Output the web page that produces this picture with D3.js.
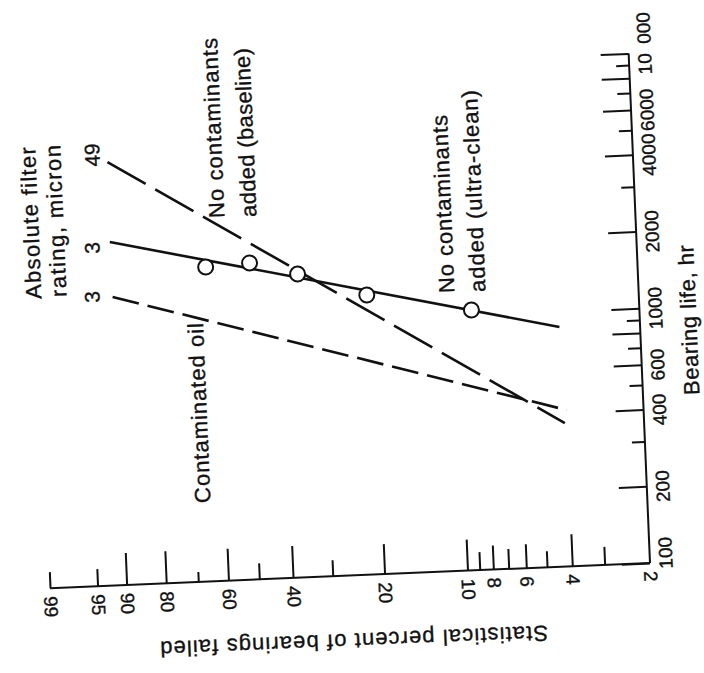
<!DOCTYPE html>
<html><head><meta charset="utf-8">
<script src="https://cdn.jsdelivr.net/npm/d3@7"></script>
<style>html,body{margin:0;padding:0;background:#fff;} svg{display:block;} text{stroke:#111;stroke-width:0.35px;}</style>
</head><body>
<svg id="chart" width="704" height="673"></svg>
<script>
// ---------------- data ----------------
const lifeTicks = [100,200,300,400,500,600,700,800,900,1000,2000,3000,4000,5000,6000,7000,8000,9000,10000];
const lifeLabels = [100,200,400,600,1000,2000,4000,6000,10000];
const lifeMinor = [300,500,700,900,3000,5000,7000,9000];
const pctTicks = [99,95,90,80,70,60,50,40,30,20,10,9,8,7,6,5,4,3,2];
const pctLabels = [99,95,90,80,60,40,20,10,8,6,4,2];
const pctTickLen = [16,17,32,32,10,32,16,32,16,30,31,18,24,20,24,16,32,18,0];

// Weibull lines (bearing life hr, percent failed)
const ultraCleanLine   = [{life:2220,pct:90.5},{life:870,pct:4.1}];
const ultraCleanPoints = [{life:1708,pct:63.2},{life:1743,pct:48.9},{life:1549,pct:35.4},{life:1249,pct:21.0},{life:1048,pct:8.8}];
const baselineLine     = [{life:4571,pct:90.3},{life:365,pct:4.05}];
const contaminatedLine = [{life:1351,pct:90.4},{life:410,pct:3.96}];
const filterRatings    = ["49","3","3"];

// ---------------- layout ----------------
const FONT = "'Liberation Sans', Arial, Helvetica, sans-serif";
const CX = 650, CY = 563, TILT = -2.4;
const svg = d3.select('#chart');
svg.append('rect').attr('width',704).attr('height',673).attr('fill','#fff');

const weib = p => Math.log(-Math.log(1 - p/100));
const pctLin = d3.scaleLinear().domain([weib(2), weib(99)]).range([CX, 49.5]);
const xP = p => pctLin(weib(p));
const yL = d3.scaleLog().domain([100,10000]).range([CY, 53]);

const g = svg.append('g').attr('transform',`rotate(${TILT},${CX},${CY})`);

// life axis (vertical, right)
const lifeAxis = d3.axisRight(yL).tickValues(lifeTicks).tickSize(0)
  .tickFormat(d => lifeLabels.includes(d) ? (d===10000 ? "10\u2002000" : String(d)) : "");
const ga = g.append('g').attr('transform',`translate(${CX},0)`).call(lifeAxis);
ga.select('.domain').remove();
ga.selectAll('.tick line').attr('x2', d => lifeMinor.includes(d) ? -13 : -28)
  .attr('stroke','#111').attr('stroke-width',2);
ga.selectAll('.tick text')
  .attr('x',null).attr('dy',null)
  .attr('transform', d => `translate(22.5,${d===100?-10:(d===10000?-10:0)}) rotate(-90)`)
  .attr('text-anchor','middle')
  .attr('font-family',FONT).attr('font-size',19).attr('fill','#111');
g.append('line').attr('x1',CX).attr('x2',CX).attr('y1',CY).attr('y2',yL(10000))
  .attr('stroke','#111').attr('stroke-width',2);

// percent axis (horizontal, bottom)
const pctAxis = d3.axisBottom(pctLin).tickValues(pctTicks.map(weib)).tickSize(0)
  .tickFormat((v,i) => pctLabels.includes(pctTicks[i]) ? String(pctTicks[i]) : "");
const gb = g.append('g').attr('transform',`translate(0,${CY})`).call(pctAxis);
gb.select('.domain').remove();
gb.selectAll('.tick line').attr('y2',(v,i) => -pctTickLen[i])
  .attr('stroke','#111').attr('stroke-width',2);
gb.selectAll('.tick text')
  .attr('y',null).attr('dy',null)
  .attr('transform','translate(-6.8,8) rotate(90)')
  .attr('text-anchor','start')
  .attr('font-family',FONT).attr('font-size',19).attr('fill','#111');
g.append('line').attr('x1',xP(99)).attr('x2',CX).attr('y1',CY).attr('y2',CY)
  .attr('stroke','#111').attr('stroke-width',2);

// lines
const line = d3.line().x(d => xP(d.pct)).y(d => yL(d.life));
g.append('path').datum(baselineLine).attr('d',line).attr('fill','none')
  .attr('stroke','#111').attr('stroke-width',2.6).attr('stroke-dasharray','44,11');
g.append('path').datum(contaminatedLine).attr('d',line).attr('fill','none')
  .attr('stroke','#111').attr('stroke-width',2.6).attr('stroke-dasharray','27,9');
g.append('path').datum(ultraCleanLine).attr('d',line).attr('fill','none')
  .attr('stroke','#111').attr('stroke-width',2.6);
g.selectAll('circle.pt').data(ultraCleanPoints).join('circle').attr('class','pt')
  .attr('cx',d => xP(d.pct)).attr('cy',d => yL(d.life)).attr('r',7.5)
  .attr('fill','#fff').attr('stroke','#111').attr('stroke-width',2);

// annotations (picture coordinates, tilted like the scan)
const vrot = -90 + TILT;
function vtext(txt, x, y, len, size, anchor){
  const t = svg.append('text').attr('transform',`translate(${x},${y}) rotate(${vrot})`)
    .attr('text-anchor',anchor||'start').attr('dominant-baseline','central')
    .attr('font-family',FONT).attr('font-size',size||22).attr('fill','#111').text(txt);
  if(len) t.attr('textLength',len).attr('lengthAdjust','spacing');
  return t;
}
vtext("Absolute filter", 34, 299, 152);
vtext("rating,  micron", 59, 297, 152);
vtext(filterRatings[0], 92, 155, null, 21, 'middle');
vtext(filterRatings[1], 92, 248, null, 21, 'middle');
vtext(filterRatings[2], 92, 297, null, 21, 'middle');
vtext("No contaminants", 217, 218, 180);
vtext("added (baseline)", 249, 217, 169);
vtext("No contaminants", 447, 293, 178);
vtext("added (ultra-clean)", 478, 292, 202);
vtext("Contaminated oil", 203, 503, 180);
vtext("Bearing life, hr", 692, 395, 150);
svg.append('text').attr('transform',`translate(548,633) rotate(${180+TILT})`)
  .attr('text-anchor','start').attr('dominant-baseline','central')
  .attr('font-family',FONT).attr('font-size',22).attr('fill','#111')
  .attr('textLength',388).attr('lengthAdjust','spacing')
  .text("Statistical percent of bearings failed");
</script>
</body></html>
